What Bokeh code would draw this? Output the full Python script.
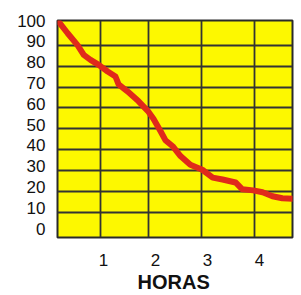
from bokeh.plotting import figure
from bokeh.models import FixedTicker, Range1d, LinearAxis
from bokeh.embed import file_html
from bokeh.resources import INLINE

# Data
horas = [0.12, 0.31, 0.50, 0.62, 0.75, 0.90, 1.08, 1.23, 1.29, 1.46, 1.67, 1.85,
         1.96, 2.10, 2.19, 2.33, 2.48, 2.67, 2.90, 3.10, 3.29, 3.54, 3.67, 3.88,
         4.06, 4.25, 4.44, 4.64]
valores = [100.0, 93.9, 88.2, 83.5, 81.1, 78.8, 75.5, 73.1, 69.3, 66.0, 61.3, 56.6,
           52.8, 46.7, 42.5, 39.6, 34.9, 30.7, 28.3, 24.5, 23.6, 22.2, 18.9, 18.4,
           17.5, 15.6, 14.6, 14.4]
x_ticks = [1, 2, 3, 4]
y_ticks = [0, 10, 20, 30, 40, 50, 60, 70, 80, 90, 100]
x_grid = [0.94, 1.87, 2.88, 3.90]
y_grid = [7.7, 17.8, 27.9, 38.0, 48.0, 58.0, 68.0, 78.0, 88.0]
x_title = "HORAS"
x_title_at = 2.35

p = figure(width=300, height=295, output_backend="svg", toolbar_location=None,
           x_range=Range1d(0.115, 4.635), y_range=Range1d(-4.25, 100.02),
           min_border_left=57, min_border_right=8, min_border_top=20, min_border_bottom=54)

p.background_fill_color = "#fdf800"
p.border_fill_color = "white"
p.outline_line_color = "#2a2a2a"
p.outline_line_width = 2

p.xgrid.ticker = FixedTicker(ticks=x_grid)
p.ygrid.ticker = FixedTicker(ticks=y_grid)
for g in (p.xgrid, p.ygrid):
    g.grid_line_color = "#333333"
    g.grid_line_width = 1.8
    g.grid_line_alpha = 1.0

title_axis = LinearAxis(ticker=FixedTicker(ticks=[x_title_at]),
                        major_label_overrides={x_title_at: x_title})
p.add_layout(title_axis, "below")

p.xaxis[0].ticker = FixedTicker(ticks=x_ticks)
p.yaxis.ticker = FixedTicker(ticks=y_ticks)
for ax in list(p.xaxis) + list(p.yaxis):
    ax.axis_line_color = None
    ax.major_tick_line_color = None
    ax.minor_tick_line_color = None
    ax.major_tick_out = 0
    ax.major_tick_in = 0
    ax.major_label_text_font = "Liberation Sans"
    ax.major_label_text_font_size = "17px"
    ax.major_label_text_color = "#111111"
p.yaxis.major_label_standoff = 12
p.xaxis[0].major_label_standoff = 16
title_axis.major_label_standoff = 2
title_axis.major_label_text_font_size = "20px"
title_axis.major_label_text_font_style = "bold"

p.line(horas, valores, line_color="#e0291b", line_width=6,
       line_join="round", line_cap="round")

open("out.html", "w").write(file_html(p, INLINE))
